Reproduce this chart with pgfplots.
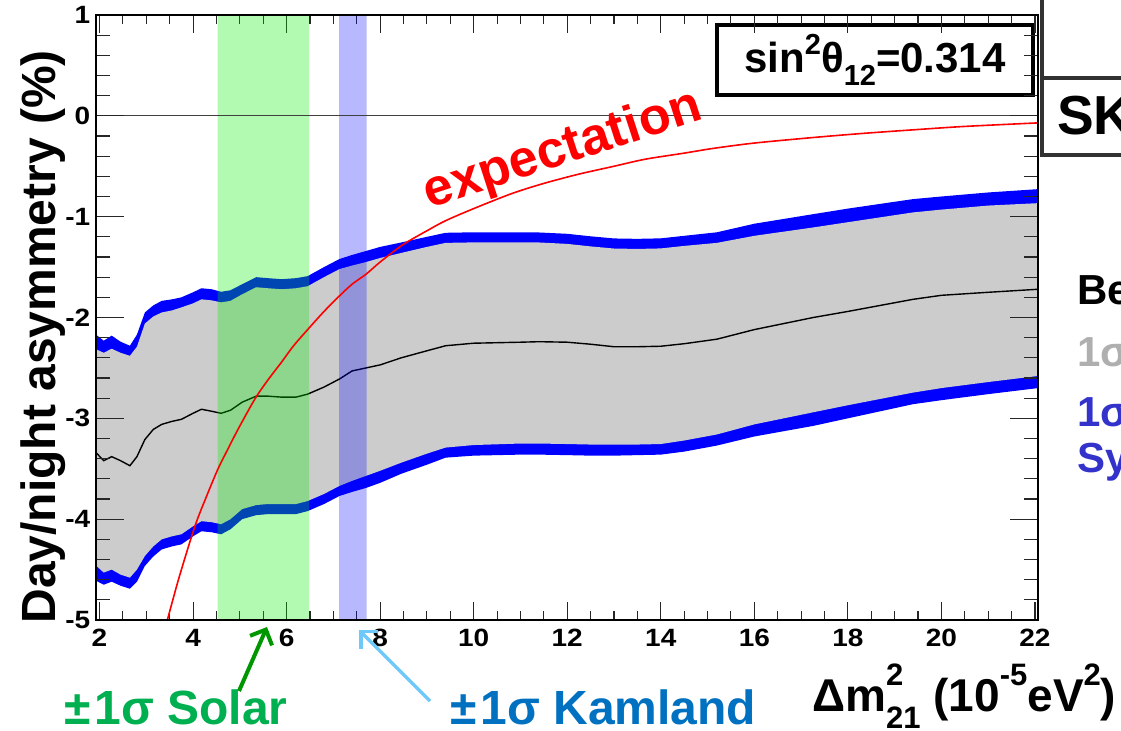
\documentclass[border=0pt]{standalone}
\usepackage{fontspec}
\setmainfont{Liberation Sans}
\usepackage{pgfplots}
\usepackage{pgfplotstable}
\pgfplotsset{compat=1.18}
\usetikzlibrary{arrows.meta}

\definecolor{bandgray}{RGB}{204,204,204}
\definecolor{solargreen}{RGB}{0,176,80}
\definecolor{arrowgreen}{RGB}{0,150,0}
\definecolor{kamblue}{RGB}{0,112,192}
\definecolor{kamarrow}{RGB}{110,200,250}
\definecolor{legblue}{RGB}{51,51,204}
\definecolor{leggray}{RGB}{175,175,175}
\definecolor{boxgray}{RGB}{50,50,50}

\newcommand{\fs}[1]{\fontsize{#1bp}{#1bp}\selectfont\bfseries}

% 1 sigma stat+syst band: upper edge left to right, lower edge right to left
\pgfplotstableread{
x y
1.925 -2.17
2.09 -2.23
2.26 -2.18
2.45 -2.24
2.65 -2.28
2.80 -2.17
2.97 -1.95
3.15 -1.88
3.33 -1.835
3.55 -1.82
3.75 -1.80
4.00 -1.75
4.18 -1.71
4.40 -1.72
4.60 -1.745
4.80 -1.73
5.05 -1.67
5.35 -1.60
5.60 -1.61
5.90 -1.62
6.20 -1.61
6.45 -1.59
6.80 -1.50
7.13 -1.42
7.40 -1.38
7.70 -1.34
8.00 -1.30
8.45 -1.256
9.00 -1.20
9.40 -1.16
10.0 -1.155
11.0 -1.155
11.4 -1.157
12.0 -1.17
12.5 -1.195
13.0 -1.216
13.5 -1.22
14.0 -1.215
14.5 -1.19
15.2 -1.155
16.0 -1.07
17.26 -0.975
18.0 -0.92
19.39 -0.826
20.0 -0.80
21.0 -0.76
22.065 -0.727
22.065 -2.70
21.0 -2.76
20.0 -2.82
19.39 -2.86
18.0 -3.00
17.26 -3.075
16.0 -3.18
15.2 -3.27
14.5 -3.33
14.0 -3.36
13.5 -3.365
13.0 -3.37
12.5 -3.37
12.0 -3.365
11.4 -3.36
11.0 -3.36
10.0 -3.37
9.40 -3.39
9.00 -3.46
8.45 -3.55
8.00 -3.64
7.70 -3.69
7.40 -3.73
7.13 -3.77
6.80 -3.85
6.45 -3.92
6.20 -3.95
5.90 -3.95
5.60 -3.95
5.35 -3.96
5.05 -4.00
4.80 -4.10
4.60 -4.15
4.40 -4.13
4.18 -4.12
4.00 -4.17
3.75 -4.25
3.55 -4.27
3.33 -4.30
3.15 -4.37
2.97 -4.464
2.80 -4.62
2.65 -4.69
2.45 -4.66
2.26 -4.62
2.09 -4.65
1.925 -4.61
}\statsyst

% 1 sigma stat band: upper edge left to right, lower edge right to left
\pgfplotstableread{
x y
1.925 -2.315
2.09 -2.35
2.26 -2.31
2.45 -2.35
2.65 -2.38
2.80 -2.29
2.97 -2.06
3.15 -1.99
3.33 -1.95
3.55 -1.93
3.75 -1.90
4.00 -1.86
4.18 -1.82
4.40 -1.83
4.60 -1.85
4.80 -1.835
5.05 -1.77
5.35 -1.70
5.60 -1.71
5.90 -1.72
6.20 -1.71
6.45 -1.69
6.80 -1.60
7.13 -1.52
7.40 -1.485
7.70 -1.45
8.00 -1.41
8.45 -1.36
9.00 -1.30
9.40 -1.26
10.0 -1.255
11.0 -1.255
11.4 -1.256
12.0 -1.27
12.5 -1.295
13.0 -1.316
13.5 -1.32
14.0 -1.315
14.5 -1.29
15.2 -1.26
16.0 -1.19
17.26 -1.107
18.0 -1.055
19.39 -0.958
20.0 -0.93
21.0 -0.89
22.065 -0.866
22.065 -2.58
21.0 -2.64
20.0 -2.70
19.39 -2.745
18.0 -2.87
17.26 -2.94
16.0 -3.06
15.2 -3.16
14.5 -3.22
14.0 -3.255
13.5 -3.26
13.0 -3.26
12.5 -3.26
12.0 -3.255
11.4 -3.25
11.0 -3.25
10.0 -3.265
9.40 -3.29
9.00 -3.35
8.45 -3.44
8.00 -3.52
7.70 -3.57
7.40 -3.62
7.13 -3.67
6.80 -3.75
6.45 -3.82
6.20 -3.85
5.90 -3.85
5.60 -3.85
5.35 -3.86
5.05 -3.90
4.80 -4.00
4.60 -4.05
4.40 -4.03
4.18 -4.02
4.00 -4.07
3.75 -4.15
3.55 -4.17
3.33 -4.20
3.15 -4.27
2.97 -4.365
2.80 -4.50
2.65 -4.58
2.45 -4.55
2.26 -4.50
2.09 -4.53
1.925 -4.46
}\statonly

% best fit
\pgfplotstableread{
x y
1.925 -3.34
2.09 -3.42
2.26 -3.38
2.45 -3.42
2.65 -3.47
2.80 -3.38
2.97 -3.21
3.15 -3.11
3.33 -3.06
3.55 -3.03
3.75 -3.01
4.00 -2.95
4.18 -2.91
4.40 -2.93
4.60 -2.95
4.80 -2.92
5.05 -2.84
5.35 -2.78
5.60 -2.78
5.90 -2.79
6.20 -2.79
6.45 -2.76
6.80 -2.69
7.13 -2.61
7.40 -2.53
7.70 -2.50
8.00 -2.47
8.45 -2.40
9.00 -2.33
9.40 -2.28
10.0 -2.255
11.0 -2.245
11.4 -2.24
12.0 -2.245
12.5 -2.265
13.0 -2.29
13.5 -2.29
14.0 -2.285
14.5 -2.26
15.2 -2.215
16.0 -2.12
17.26 -2.00
18.0 -1.94
19.39 -1.82
20.0 -1.78
21.0 -1.75
22.065 -1.72
}\bestfit

% expected asymmetry for sin^2 theta12 = 0.314
\pgfplotstableread{
x y
3.35 -5.15
3.45 -5.00
3.70 -4.58
4.04 -4.07
4.30 -3.76
4.53 -3.505
4.75 -3.30
4.96 -3.11
5.32 -2.81
5.60 -2.62
5.88 -2.45
6.15 -2.28
6.45 -2.12
6.80 -1.94
7.13 -1.786
7.40 -1.67
7.70 -1.57
8.00 -1.45
8.48 -1.28
9.00 -1.14
9.40 -1.04
10.0 -0.92
10.82 -0.77
11.5 -0.67
12.25 -0.578
13.0 -0.50
13.67 -0.43
14.5 -0.37
15.12 -0.323
16.0 -0.27
17.26 -0.215
18.3 -0.175
19.39 -0.139
20.5 -0.105
22.065 -0.07
}\expect

\pgfplotsset{
  dnframe/.style={
    at={(96bp,111bp)}, anchor=south west,
    scale only axis, width=942bp, height=605bp,
    xmin=1.925, xmax=22.065, ymin=-5, ymax=1,
    tick align=inside,
    axis line style={black, line width=1.2bp},
    tick style={black!85, line width=1.1bp},
  }
}

\begin{document}
\begin{tikzpicture}

% parameter box
\node[draw=black, line width=4bp, fill=white, minimum width=316bp, minimum height=70bp, inner sep=0pt]
  at (875bp,671bp) {\fs{42}sin\raisebox{0.42em}{\fs{29}2}θ\raisebox{-0.3em}{\fs{29}12}=0.314};

% data and x ticks
\begin{axis}[dnframe,
  xtick={2,4,...,22}, minor x tick num=3,
  xticklabels={2,4,6,8,10,12,14,16,18,20,22},
  ytick=\empty,
  major tick length=18bp, minor tick length=9bp,
  xticklabel style={font={\fs{25}}, xscale=1.12, inner sep=0pt, yshift=-9bp},
]
\addplot[draw=none, fill=blue] table[x=x, y=y] {\statsyst};
\addplot[draw=none, fill=bandgray] table[x=x, y=y] {\statonly};
\addplot[black, line width=1.4bp] table[x=x, y=y] {\bestfit};
% solar and KamLAND 1 sigma ranges
\addplot[draw=none, fill={rgb,255:red,0;green,235;blue,0}, fill opacity=0.3]
  coordinates {(4.526,-5) (6.483,-5) (6.483,1) (4.526,1) (4.526,-5)};
\addplot[draw=none, fill=blue, fill opacity=0.28]
  coordinates {(7.124,-5) (7.709,-5) (7.709,1) (7.124,1) (7.124,-5)};
\addplot[black!75, line width=1.2bp] coordinates {(1.925,0) (22.065,0)};
\addplot[red, line width=1.6bp, smooth] table[x=x, y=y] {\expect};
\end{axis}

% y ticks and axis title
\begin{axis}[dnframe,
  xtick=\empty,
  ytick={-5,-4,...,1}, minor y tick num=4,
  yticklabels={-5,-4,-3,-2,-1,0,1},
  major tick length=28bp, minor tick length=14bp,
  yticklabel style={font={\fs{25}}, xscale=1.12, inner sep=0pt, xshift=-5bp},
  ylabel={Day/night asymmetry (\%)},
  ylabel style={font={\fs{48}}, at={(axis description cs:-0.0557,0.468)}, anchor=center},
]
\addplot[draw=none] coordinates {(2,0)};
\end{axis}

\node[rotate=18, text=red, font={\fs{52}}] at (563bp,580bp) {expectation};

\node[anchor=base west, inner sep=0pt, text=solargreen] at (64bp,7bp) {\fs{48}±\hspace{4bp}1σ Solar};
\node[anchor=base west, inner sep=0pt, text=kamblue] at (450bp,7bp) {\fs{48}±\hspace{4bp}1σ Kamland};
\draw[arrowgreen, line width=4bp, -{Straight Barb[length=12bp, width=24bp, line width=4bp]}]
  (239bp,40bp) -- (267bp,104bp);
\draw[kamarrow, line width=3.5bp, -{Straight Barb[length=12bp, width=24bp, line width=3.5bp]}]
  (430bp,30bp) -- (359bp,101bp);

\begin{scope}
\clip (0,0) rectangle (1121bp,731bp);
% neighbouring panel frames
\draw[line width=4bp, boxgray] (1042bp,740bp) -- (1042bp,576bp);
\draw[line width=4bp, boxgray] (1040bp,653bp) -- (1130bp,653bp);
\draw[line width=4bp, boxgray] (1040bp,576bp) -- (1130bp,576bp);
\node[anchor=base west, inner sep=0pt] at (1057bp,596bp) {\fs{55}SK-IV};

\node[anchor=base west, inner sep=0pt] at (812bp,20bp)
  {\fs{46}Δm\rlap{\raisebox{0.55em}{\fs{31}2}}\raisebox{-0.38em}{\fs{31}21} (10\raisebox{0.55em}{\fs{31}-5}eV\raisebox{0.55em}{\fs{31}2})};

% legend entries of the neighbouring panel
\node[anchor=base west, inner sep=0pt] at (1077bp,426bp) {\fs{42}Best fit};
\node[anchor=base west, inner sep=0pt, text=leggray] at (1077bp,364bp) {\fs{42}1σ stat.};
\node[anchor=base west, inner sep=0pt, text=legblue] at (1077bp,304bp) {\fs{42}1σ stat.+};
\node[anchor=base west, inner sep=0pt, text=legblue] at (1077bp,258bp) {\fs{42}Syst.};
\end{scope}

\pgfresetboundingbox
\useasboundingbox (0,0) rectangle (1121bp,731bp);
\end{tikzpicture}
\end{document}
